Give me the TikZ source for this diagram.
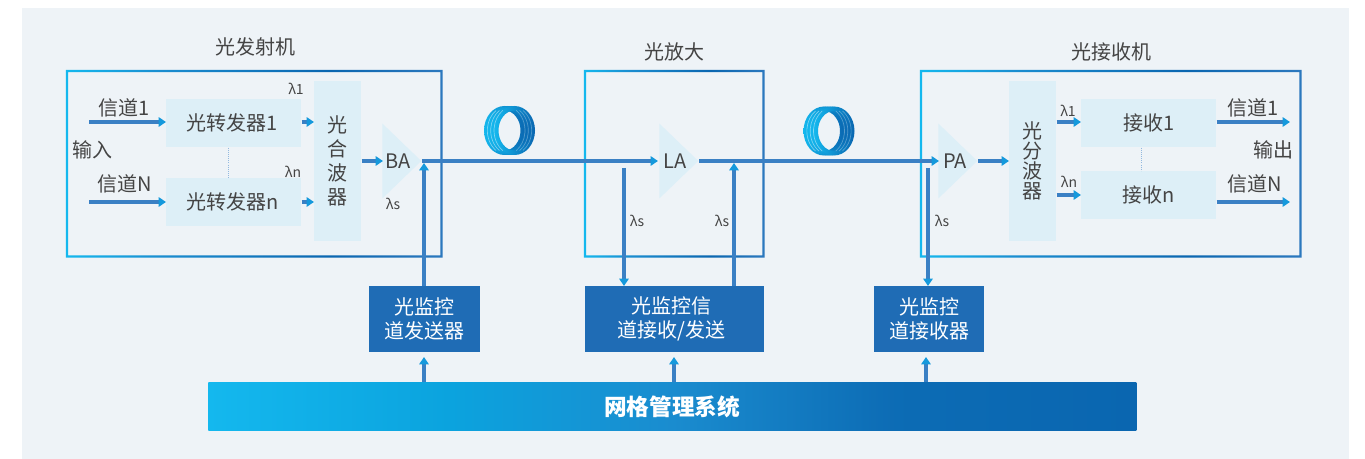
\documentclass[tikz,border=0pt]{standalone}
\usepackage{fontspec}
\setmainfont{Noto Sans CJK SC}
\usepackage{xcolor}
\usepackage{tikz}
\usetikzlibrary{shapes.geometric, arrows.meta, positioning}

\definecolor{panelbg}{HTML}{EEF3F7}
\definecolor{boxbg}{HTML}{DDEFF7}
\definecolor{sigline}{HTML}{3A80C4}
\definecolor{sigtip}{HTML}{1599DC}
\definecolor{ctrlbg}{HTML}{1F6CB5}
\definecolor{inktext}{HTML}{444444}
\definecolor{coilA}{HTML}{14B8EE}
\definecolor{coilB}{HTML}{0A66B0}
\definecolor{barmid}{HTML}{0BA3DE}
\definecolor{barsoft}{HTML}{1A8CCF}

\pgfdeclarehorizontalshading{bargrad}{100bp}{
  color(0bp)=(coilA); color(25bp)=(coilA); color(38bp)=(barmid); color(50bp)=(barsoft);
  color(62bp)=(coilB!85!barsoft); color(75bp)=(coilB); color(100bp)=(coilB)}
\pgfdeclarehorizontalshading{framegrad}{100bp}{
  color(0bp)=(coilA); color(25bp)=(coilA); color(38bp)=(barsoft); color(60bp)=(coilB);
  color(75bp)=(sigline!70!coilB); color(100bp)=(sigline!70!coilB)}

\tikzset{
  title/.style={font=\fontsize{15}{18}\selectfont, text=inktext, inner sep=0pt},
  lbl/.style={font=\fontsize{15}{18}\selectfont, text=inktext, inner sep=0pt},
  lam/.style={font=\fontsize{10.5}{12}\selectfont, text=inktext, inner sep=0pt},
  frame/.style={inner sep=0pt, anchor=north west},
  unitbox/.style={rectangle, fill=boxbg, inner sep=0pt, align=center, text=inktext,
    font=\fontsize{15}{18}\selectfont, anchor=north west},
  tallbox/.style={unitbox, font=\fontsize{15}{18pt}\selectfont},
  amp/.style={isosceles triangle, isosceles triangle stretches, fill=boxbg, inner sep=0pt,
    minimum width=56.25pt, minimum height=29.25pt, anchor=apex},
  ctrlbox/.style={rectangle, fill=ctrlbg, inner sep=0pt, align=center, text=white,
    font=\fontsize{15}{18pt}\selectfont, anchor=north west},
  sig/.style={draw=sigline, line width=2.3pt, -{Triangle[length=5.5pt,width=7pt,color=sigtip]}},
  dots/.style={draw=sigline!55, line width=.6pt, densely dotted},
  coil/.pic={
    \foreach \dx in {-5,-1.67,1.67,5}
      \shade[even odd rule, left color=coilA, right color=coilB]
        (\dx,0) ellipse [x radius=20.5, y radius=24.5]
        (\dx,0) ellipse [x radius=16, y radius=20];
    \foreach \dx in {-1.67,1.67,5}
      \draw[white, opacity=.45, line width=.5pt]
        (\dx,0) ++(125:20.5 and 24.5) arc [start angle=125, end angle=235, x radius=20.5, y radius=24.5];
    \foreach \dx in {-5,-1.67,1.67}
      \draw[white, opacity=.3, line width=.5pt]
        (\dx,0) ++(-55:20.5 and 24.5) arc [start angle=-55, end angle=55, x radius=20.5, y radius=24.5];
  }
}

\newcommand{\gradframe}[1]{
  \shade[even odd rule, shading=framegrad]
    ([xshift=-.85pt,yshift=-.85pt]#1.south west) rectangle ([xshift=.85pt,yshift=.85pt]#1.north east)
    ([xshift=.85pt,yshift=.85pt]#1.south west) rectangle ([xshift=-.85pt,yshift=-.85pt]#1.north east);
}
\newcommand{\lowtext}[2]{\raisebox{-#1}{#2}}

\begin{document}
\begin{tikzpicture}[x=.75pt, y=-.75pt]
\useasboundingbox (0,0) rectangle (1365,459);
\node (panel) [frame, fill=panelbg, minimum width=995.25pt, minimum height=338.25pt] at (22,8) {};

% frames
\node (txframe) [frame, minimum width=280.5pt, minimum height=138.75pt] at (67,71) {};
\node (midframe) [frame, minimum width=133.5pt, minimum height=138.75pt] at (585,71) {};
\node (rxframe) [frame, minimum width=284.25pt, minimum height=138.75pt] at (921,71) {};
\gradframe{txframe}
\gradframe{midframe}
\gradframe{rxframe}

\node (txtitle) [title] at (255,47) {光发射机};
\node (midtitle) [title] at (674,52) {光放大};
\node (rxtitle) [title] at (1111,52) {光接收机};

% transmitter
\node (otu1) [unitbox, minimum width=101.25pt, minimum height=36pt] at (166,99) {\lowtext{1.2pt}{光转发器1}\rule{3pt}{0pt}};
\node (otun) [unitbox, minimum width=101.25pt, minimum height=36pt] at (166,178) {光转发器n\rule{2pt}{0pt}};
\node (mux) [tallbox, minimum width=35.25pt, minimum height=120pt] at (314,81) {光\\合\\波\\器};
\node (ba) [amp] at (422,161) {};
\node (balbl) [lbl] at (398,161) {BA};
\node (txin1) [lbl] at (124,108) {信道1};
\node (txinn) [lbl] at (125,184) {信道N};
\node (txin) [lbl] at (92,150) {输入};
\node (txl1) [lam] at (296,89) {λ1};
\node (txln) [lam] at (293,172) {λn};
\node (txls) [lam] at (393,204) {λs};
\coordinate (in1) at (89,122);
\coordinate (inn) at (89,202);
\coordinate (bain) at (383,161);

\draw[dots] (otu1.south -| 228,0) -- (otun.north -| 228,0);
\draw[sig] (in1) -- (in1 -| otu1.west);
\draw[sig] (inn) -- (inn -| otun.west);
\draw[sig] (in1 -| otu1.east) -- (in1 -| mux.west);
\draw[sig] (inn -| otun.east) -- (inn -| mux.west);
\draw[sig] (bain -| mux.east) -- (bain);

% line amplifier
\node (la) [amp] at (699,161) {};
\node (lalbl) [lbl] at (675,161) {LA};
\node (lals) [lam] at (637,221) {λs};
\node (larx) [lam] at (722,221) {λs};
\coordinate (lain) at (658,161);
\draw[sig] (ba.apex) -- (lain);

% receiver
\node (pa) [amp] at (978,161) {};
\node (palbl) [lbl] at (955,161) {PA};
\coordinate (pain) at (939,161);
\draw[sig] (la.apex) -- (pain);
\node (dmux) [tallbox, minimum width=35.25pt, minimum height=120pt, font=\fontsize{15}{15pt}\selectfont] at (1009,81) {\lowtext{1.2pt}{光}\\\lowtext{1.2pt}{分}\\\lowtext{1.2pt}{波}\\\lowtext{1.2pt}{器}};
\node (rx1) [unitbox, minimum width=101.25pt, minimum height=36pt] at (1081,99) {\lowtext{1pt}{接收1}};
\node (rxn) [unitbox, minimum width=101.25pt, minimum height=36pt] at (1081,171) {\lowtext{1.8pt}{接收n}};
\node (rxl1) [lam] at (1068,111) {λ1};
\node (rxln) [lam] at (1069,182) {λn};
\node (pals) [lam] at (942,221) {λs};
\node (rxout1) [lbl] at (1253,108) {信道1};
\node (rxoutn) [lbl] at (1255,184) {信道N};
\node (rxout) [lbl] at (1273,150) {输出};
\coordinate (out1) at (1290,122);
\coordinate (outn) at (1290,202);
\coordinate (dm1) at (1081,122);
\coordinate (dmn) at (1081,195);

\draw[dots] (rx1.south -| 1141,0) -- (rxn.north -| 1141,0);
\draw[sig] (pa.apex) -- (pa.apex -| dmux.west);
\draw[sig] (dm1 -| dmux.east) -- (dm1);
\draw[sig] (dmn -| dmux.east) -- (dmn);
\draw[sig] (out1 -| rx1.east) -- (out1);
\draw[sig] (outn -| rxn.east) -- (outn);

% fibre coils
\pic at (509.5,130.5) {coil};
\pic at (829,131) {coil};

% supervisory channel
\node (osctx) [ctrlbox, minimum width=83.25pt, minimum height=49.5pt] at (369,286) {光监控\\道发送器};
\node (oscmid) [ctrlbox, minimum width=134.25pt, minimum height=49.5pt] at (585,286) {光监控信\rule{4.5pt}{0pt}\\道接收/发送\rule{4.5pt}{0pt}};
\node (oscrx) [ctrlbox, minimum width=82.5pt, minimum height=49.5pt] at (874,286) {光监控\\道接收器};
\node (nms) [frame, shading=bargrad, minimum width=696pt, minimum height=36.25pt, text=white,
  font=\fontsize{17}{20}\selectfont\bfseries] at (208,382) {网格管理系统};

\coordinate (batap) at (424,163);
\coordinate (ladrop) at (624,168);
\coordinate (laadd) at (734,163);
\coordinate (padrop) at (928,168);

\draw[sig] (batap |- osctx.north) -- (batap);
\draw[sig] (ladrop) -- (ladrop |- oscmid.north);
\draw[sig] (laadd |- oscmid.north) -- (laadd);
\draw[sig] (padrop) -- (padrop |- oscrx.north);

\coordinate (up1) at (424,357);
\coordinate (up2) at (674,357);
\coordinate (up3) at (926,357);
\draw[sig] (up1 |- nms.north) -- (up1);
\draw[sig] (up2 |- nms.north) -- (up2);
\draw[sig] (up3 |- nms.north) -- (up3);
\end{tikzpicture}
\end{document}
